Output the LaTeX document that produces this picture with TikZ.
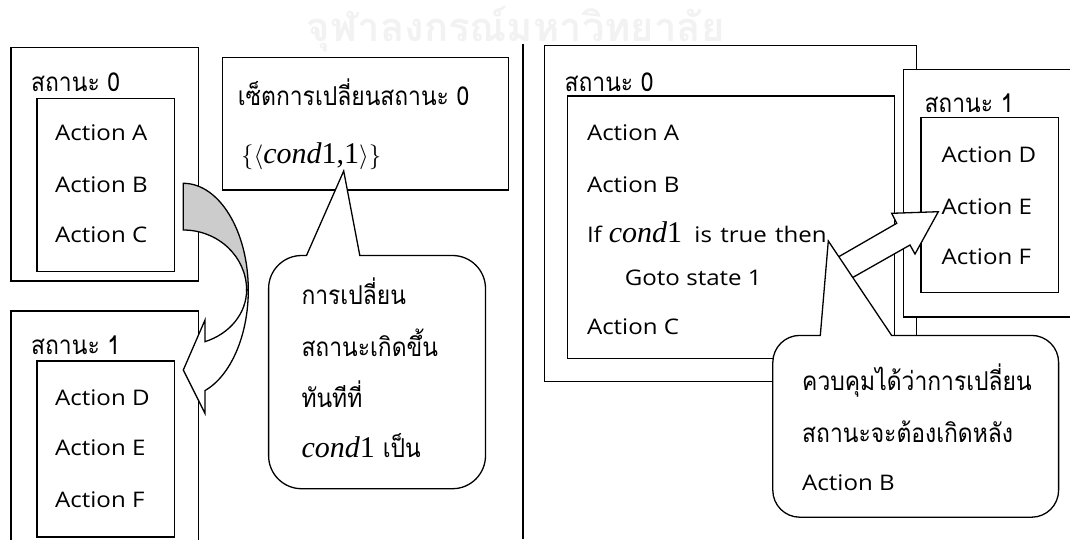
\documentclass[tikz,border=0pt]{standalone}
\usepackage{fontspec}
\setmainfont{Open Sans}[FakeStretch=1.12]
\newfontfamily\thai[Script=Thai,FakeStretch=0.88]{Loma}
\newfontfamily\thaiwm[Script=Thai]{Loma}
\newfontfamily\serif{Liberation Serif}
\begin{document}
\begin{tikzpicture}[x=1pt,y=1pt,
  box/.style={draw, line width=1.3pt, fill=white, inner sep=0pt, anchor=north west},
  lat/.style={anchor=base west, inner sep=0pt, font=\fontsize{21.5}{25}\selectfont},
  thl/.style={anchor=base west, inner sep=0pt, font=\thai\fontsize{26}{30}\selectfont},
  shapeline/.style={line width=1.3pt, line join=miter},
  divider/.style={line width=2pt}]
\useasboundingbox (0,0) rectangle (1070,-539);
% watermark
\node[anchor=base west, inner sep=0pt, font=\thaiwm\bfseries\fontsize{40}{40}\selectfont, text=black!5] (wm) at (306.7,-41.7) {จุฬาลงกรณ์มหาวิทยาลัย};

% ---------- left panel ----------
\node[box, minimum width=187.7pt, minimum height=233.8pt] (L0) at (10.3,-46.5) {};
\node[box, minimum width=137.7pt, minimum height=173.5pt] (L0in) at (36.2,-97.5) {};
\node[box, minimum width=187.7pt, minimum height=240pt] (L1) at (10.3,-310.3) {};
\node[box, minimum width=137.7pt, minimum height=176.2pt] (L1in) at (36.2,-360.2) {};
\node[box, minimum width=286pt, minimum height=132.4pt] (set) at (222,-57) {};

\node[thl] (L0t) at (31,-91.3) {สถานะ 0};
\node[lat] (La) at (55,-140.5) {Action A};
\node[lat] (Lb) at (55,-192) {Action B};
\node[lat] (Lc) at (55,-242) {Action C};
\node[thl] (L1t) at (31,-354.4) {สถานะ 1};
\node[lat] (Ld) at (55,-405) {Action D};
\node[lat] (Le) at (55,-455) {Action E};
\node[lat] (Lf) at (55,-507) {Action F};

\node[thl] (sett) at (237.6,-105) {เซ็ตการเปลี่ยนสถานะ 0};
\node[anchor=base west, inner sep=0pt, font=\fontsize{30}{34}\selectfont] (setc) at (241,-163.6)
  {$\{\langle$\serif\itshape cond\upshape 1,1$\rangle\}$};

% curved arrow
\filldraw[shapeline, fill=black!20] (183.3,-183.3)
  arc[start angle=90, end angle=0, x radius=65pt, y radius=106.7pt]
  -- (246.6,-290)
  arc[start angle=0, end angle=90, x radius=63.3pt, y radius=60pt] -- cycle;
\filldraw[shapeline, fill=white] (246.6,-290)
  arc[start angle=0, end angle=-70, x radius=63.3pt, y radius=55pt]
  -- (205,-320) -- (183.3,-370) -- (205,-413.3) -- (205,-390.6)
  arc[start angle=-70.5, end angle=0, x radius=65pt, y radius=106.7pt] -- cycle;

% callout 1
\filldraw[shapeline, fill=white] (306.5,-255.5) -- (343.7,-171) -- (359.8,-255.5)
  -- (452.5,-255.5) arc[start angle=90, end angle=0, radius=33pt]
  -- (485.5,-455.7) arc[start angle=0, end angle=-90, radius=33pt]
  -- (301.6,-488.7) arc[start angle=-90, end angle=-180, radius=33pt]
  -- (268.6,-288.5) arc[start angle=180, end angle=90, radius=33pt] -- cycle;
\node[thl] (c1a) at (301.3,-304.4) {การเปลี่ยน};
\node[thl] (c1b) at (301.3,-356) {สถานะเกิดขึ้น};
\node[thl] (c1c) at (301.3,-407.7) {ทันทีที่};
\node[anchor=base west, inner sep=0pt] (c1d) at (301.3,-457.7)
  {{\serif\fontsize{30}{34}\selectfont\itshape cond\upshape 1}\hspace{8pt}{\thai\fontsize{26}{30}\selectfont เป็น}};

% divider
\coordinate (dtop) at (522.7,-44.3);
\coordinate (dbot) at (522.7,-539);
\draw[divider] (dtop) -- (dbot);

% ---------- right panel ----------
\node[box, minimum width=371.9pt, minimum height=335.9pt] (R0) at (543.8,-45) {};
\node[box, minimum width=327.2pt, minimum height=262.4pt] (R0in) at (566.8,-95.4) {};
\node[box, minimum width=190pt, minimum height=247.3pt] (R1) at (903,-69) {};
\node[box, minimum width=137.9pt, minimum height=175.2pt] (R1in) at (920.2,-116.5) {};

\node[thl] (R0t) at (564.4,-91.3) {สถานะ 0};
\node[lat] (Ra) at (586.8,-140.5) {Action A};
\node[lat] (Rb) at (586.8,-192) {Action B};
\node[lat] (Rif) at (586.8,-242) {If\hspace{7pt}{\serif\fontsize{30}{34}\selectfont\itshape cond\upshape 1}\hspace{6pt} is\hspace{2pt} true\hspace{2pt} then};
\node[lat] (Rgo) at (624.7,-285) {Goto state 1};
\node[lat] (Rc) at (586.8,-334.5) {Action C};
\node[thl] (R1t) at (924.3,-112) {สถานะ 1};
\node[lat] (Rd) at (941.5,-162.7) {Action D};
\node[lat] (Re) at (941.5,-214.3) {Action E};
\node[lat] (Rf) at (941.5,-264.2) {Action F};

% block arrow
\filldraw[shapeline, fill=white] (831.3,-261) -- (896.7,-223.3) -- (891.7,-213.3)
  -- (938.3,-211.7) -- (915,-254) -- (910,-245) -- (845.3,-281.7) -- cycle;

% callout 2
\filldraw[shapeline, fill=white] (820.3,-335.4) -- (828.3,-241) -- (891.6,-335.4)
  -- (1031.6,-335.4) arc[start angle=90, end angle=0, radius=27pt]
  -- (1058.6,-490.2) arc[start angle=0, end angle=-90, radius=27pt]
  -- (799.8,-517.2) arc[start angle=-90, end angle=-180, radius=27pt]
  -- (772.8,-362.4) arc[start angle=180, end angle=90, radius=27pt] -- cycle;
\node[thl] (c2a) at (802,-390.5) {ควบคุมได้ว่าการเปลี่ยน};
\node[thl] (c2b) at (802,-442.2) {สถานะจะต้องเกิดหลัง};
\node[lat] (c2c) at (802,-490.4) {Action B};
\end{tikzpicture}
\end{document}
